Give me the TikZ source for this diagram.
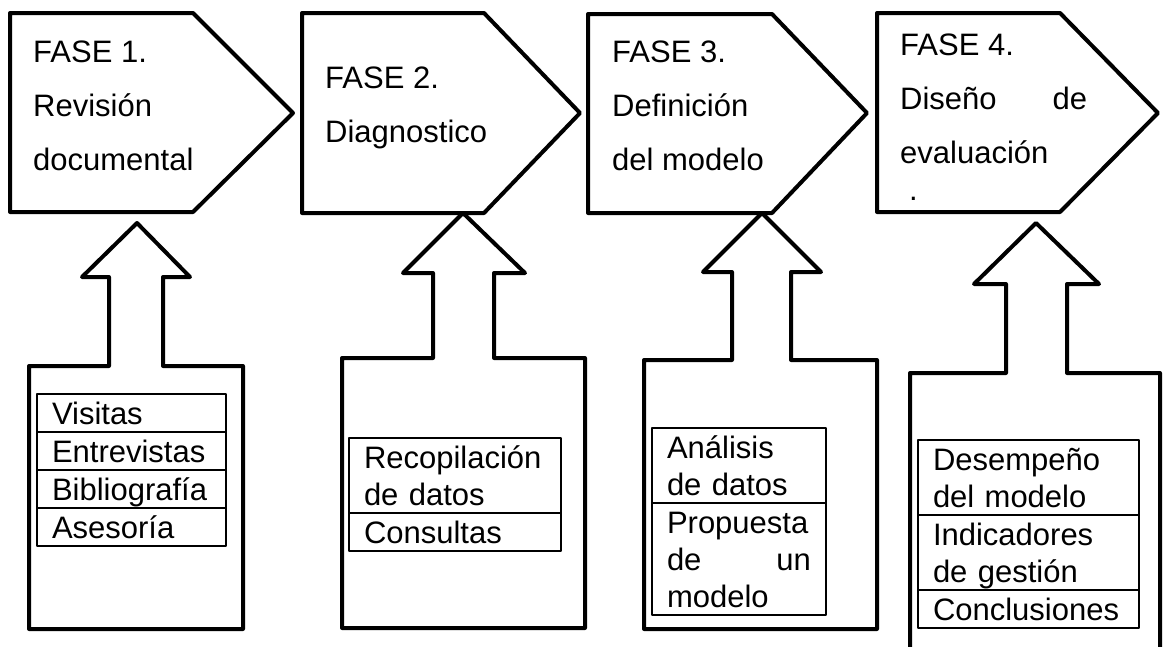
\documentclass[tikz,border=0pt]{standalone}
\usepackage{fontspec}
\setmainfont{Liberation Sans}
\usetikzlibrary{positioning}
\newcommand{\fila}{\rule[-7.5pt]{0pt}{37pt}}

\begin{document}
\begin{tikzpicture}[x=1pt, y=-1pt, line join=round,
    forma/.style={draw, line width=4pt},
    fase/.style={anchor=north west, inner sep=0pt, align=left, font=\fontsize{31}{54}\selectfont},
    celda/.style={draw, line width=2pt, outer sep=0pt, inner xsep=15pt, inner ysep=0.5pt, align=left, anchor=north west, font=\fontsize{31}{37}\selectfont}]

    \useasboundingbox (0,0) rectangle (1163,646);
    \clip (0,0) rectangle (1163,646);

    % fases
    \path[forma] (10,13) -- (193,13) -- (293,113) -- (193,212) -- (10,212) -- cycle;
    \path[forma] (302,13) -- (484,13) -- (580,113) -- (484,213) -- (302,213) -- cycle;
    \path[forma] (588,14) -- (772,14) -- (867,113) -- (772,213) -- (588,213) -- cycle;
    \path[forma] (877,13) -- (1060,13) -- (1158,113) -- (1060,212) -- (877,212) -- cycle;

    \node[fase] (f1) at (33,40) {\rule{0pt}{22pt}FASE 1.\\Revisión\\documental};
    \node[fase] (f2) at (325,66) {\rule{0pt}{22pt}FASE 2.\\Diagnostico};
    \node[fase] (f3) at (612,40) {\rule{0pt}{22pt}FASE 3.\\Definición\\del modelo};
    \node[fase] (f4) at (900,33) {\rule{0pt}{22pt}FASE 4.\\\hbox to 187pt{Diseño\hfill de}\\evaluación\\[-17pt]\hspace*{9pt}.};

    % entradas
    \path[forma] (29,629) -- (29,366) -- (109,366) -- (109,277) -- (82,277) -- (137,223)
        -- (190,277) -- (163,277) -- (163,366) -- (243,366) -- (243,629) -- cycle;
    \path[forma] (342,628) -- (342,358) -- (433,358) -- (433,273) -- (403,273) -- (463,213)
        -- (525,273) -- (494,273) -- (494,358) -- (585,358) -- (585,628) -- cycle;
    \path[forma] (644,629) -- (644,360) -- (732,360) -- (732,272) -- (703,272) -- (762,213)
        -- (821,272) -- (791,272) -- (791,360) -- (877,360) -- (877,629) -- cycle;
    \path[forma] (910,680) -- (910,373) -- (1006,373) -- (1006,284) -- (974,284) -- (1036,223)
        -- (1099,284) -- (1067,284) -- (1067,373) -- (1160,373) -- (1160,680) -- cycle;

    \node[celda, text width=159pt] (c1a) at (37,394) {\fila Visitas};
    \node[celda, text width=159pt, below=0pt of c1a] (c1b) {\fila Entrevistas};
    \node[celda, text width=159pt, below=0pt of c1b] (c1c) {\fila Bibliografía};
    \node[celda, text width=159pt, below=0pt of c1c] (c1d) {\fila Asesoría};

    \node[celda, text width=182pt] (c2a) at (349,438) {\fila Recopilación\\\fila de datos};
    \node[celda, text width=182pt, below=0pt of c2a] (c2b) {\fila Consultas};

    \node[celda, text width=144pt] (c3a) at (652,428) {\fila Análisis\\\fila de datos};
    \node[celda, text width=144pt, below=0pt of c3a] (c3b) {\fila Propuesta\\\fila\hbox to 144pt{de\hfill un}\\\fila modelo};

    \node[celda, text width=191pt] (c4a) at (918,440) {\fila Desempeño\\\fila del modelo};
    \node[celda, text width=191pt, below=0pt of c4a] (c4b) {\fila Indicadores\\\fila de gestión};
    \node[celda, text width=191pt, below=0pt of c4b] (c4c) {\fila Conclusiones};

\end{tikzpicture}
\end{document}
